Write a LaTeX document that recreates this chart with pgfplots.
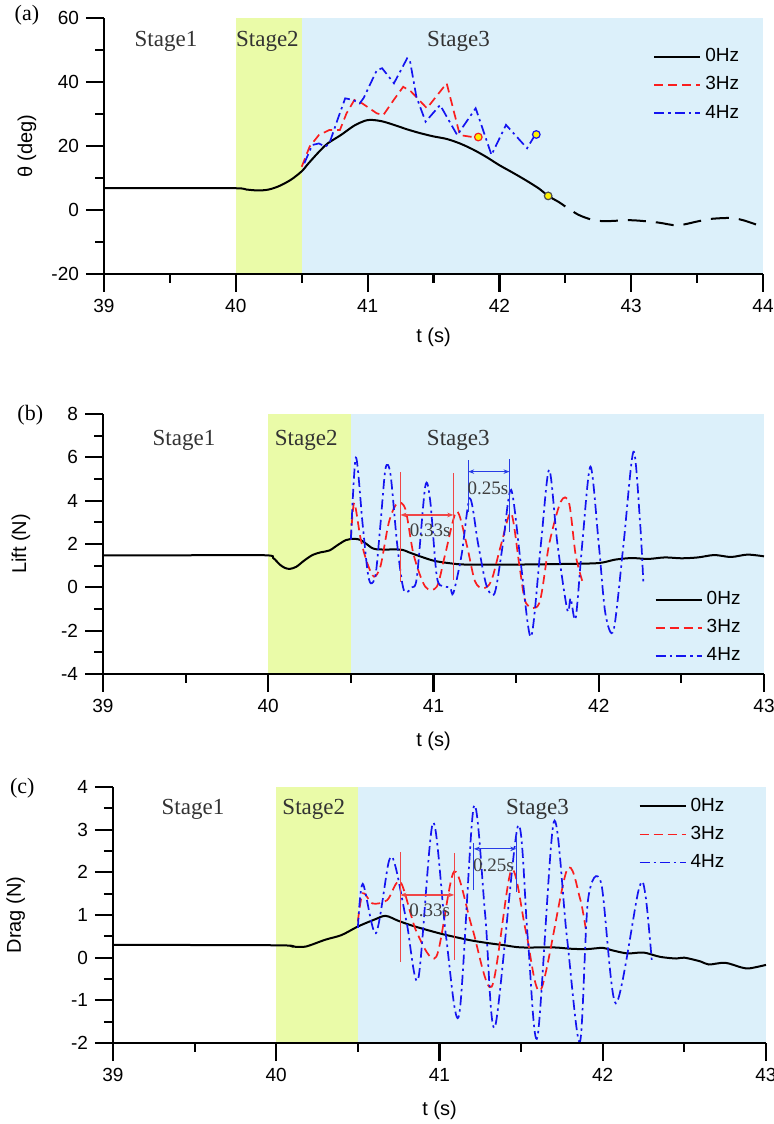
\documentclass[border=0pt]{standalone}
\usepackage{fontspec}
\setmainfont{Liberation Sans}
\newfontfamily\seriffont{Liberation Serif}
\usepackage{pgfplots}
\pgfplotsset{compat=1.18}
\usetikzlibrary{arrows.meta}

\definecolor{stagetwo}{RGB}{234,251,168}
\definecolor{stagethree}{RGB}{220,240,250}
\definecolor{hzred}{RGB}{250,30,30}
\definecolor{hzblue}{RGB}{20,20,240}
\definecolor{annred}{RGB}{240,70,70}
\definecolor{annblue}{RGB}{40,60,230}

\pgfplotsset{
  panel/.style={
    scale only axis, axis on top, clip=false,
    axis lines=left, axis line style={-, line width=1.1pt},
    tick align=outside, major tick length=9pt, minor tick length=4.5pt,
    every tick/.style={black, line width=1.1pt},
    minor x tick num=1, minor y tick num=1,
    tick label style={font=\fontsize{9.5}{11}\selectfont},
    /pgf/number format/assume math mode=true,
    label style={font=\fontsize{10}{12}\selectfont},
    legend cell align=left,
    legend image code/.code={\draw[##1] (0pt,0pt) -- (23pt,0pt);},
    legend style={draw=none, fill=none, font=\fontsize{9.5}{11}\selectfont, row sep=2pt},
  },
  zero/.style={black, line width=1pt},
  three/.style={hzred, line width=0.85pt, dash pattern=on 4.5pt off 2.5pt},
  four/.style={hzblue, line width=0.85pt, dash pattern=on 5pt off 2pt on 1.2pt off 2pt},
}
\tikzset{
  stage/.style={font=\seriffont\fontsize{11.5}{13}\selectfont, text=black!80},
  panlab/.style={font=\seriffont\fontsize{11}{13}\selectfont},
  ann/.style={font=\seriffont\fontsize{9.5}{11}\selectfont, text=black!75, inner sep=0pt},
}

\begin{document}
\begin{tikzpicture}
\path[use as bounding box] (0,0) rectangle (387pt,562pt);

% (a) pitch angle
\begin{axis}[panel, at={(52pt,425pt)}, anchor=south west, width=329.5pt, height=128pt,
  xmin=39, xmax=44, ymin=-20, ymax=60, xtick={39,...,44}, ytick={-20,0,...,60},
  xlabel={t (s)}, ylabel={θ (deg)},
  xlabel style={at={(axis description cs:0.5,-0.246)}, anchor=center},
  ylabel style={at={(axis description cs:-0.117,0.5)}, anchor=center},
  legend style={at={(0.824,0.914)}, anchor=north west}]
\fill[stagetwo] (axis cs:40,-20) rectangle (axis cs:40.5,60);
\fill[stagethree] (axis cs:40.5,-20) rectangle (axis cs:44,60);
\addplot[zero, smooth] coordinates {(39,6.8)(39.5,6.8)(40,6.8)(40.08,6.4)(40.17,6.1)(40.25,6.4)(40.33,7.5)(40.42,9.5)(40.5,12.1)(40.55,14.5)(40.6,16.8)(40.65,19)(40.7,20.9)(40.8,23.5)(40.9,26.4)(41.0,28.1)(41.1,27.8)(41.2,26.6)(41.3,25.2)(41.4,24)(41.5,23)(41.6,22.2)(41.7,20.8)(41.8,18.9)(41.9,16.6)(42.0,14)(42.1,11.7)(42.2,9.3)(42.3,6.7)(42.37,4.4)(42.45,2.5)(42.5,1.1)};
\addlegendentry{0Hz}
\addplot[three] coordinates {(40.5,13.5)(40.56,19.8)(40.63,23.4)(40.71,25)(40.79,25)(40.84,30.2)(40.9,34.4)(40.96,33.3)(41.07,30.2)(41.12,29.7)(41.2,34.5)(41.27,38.5)(41.33,37)(41.45,31.8)(41.6,39.6)(41.7,23.4)(41.78,22.9)(41.83,22.7)};
\addlegendentry{3Hz}
\addplot[four] coordinates {(40.52,14.6)(40.58,20.3)(40.63,20.8)(40.68,19.8)(40.71,20.8)(40.77,28)(40.83,34.9)(40.89,34.4)(40.94,33.3)(40.97,35)(41.07,43.7)(41.11,44.3)(41.2,39.6)(41.3,47.4)(41.32,47)(41.37,35.4)(41.44,27.6)(41.55,32.8)(41.68,23.4)(41.82,31.8)(41.94,17.2)(42.05,26.6)(42.21,19.3)(42.27,23.4)};
\addlegendentry{4Hz}
\addplot[black, line width=1pt, dash pattern=on 9pt off 5pt, dash phase=9pt, smooth, forget plot] coordinates {(42.5,1.1)(42.6,-1.5)(42.7,-3)(42.8,-3.5)(43.0,-3.2)(43.2,-3.9)(43.35,-4.8)(43.5,-3.6)(43.6,-2.8)(43.75,-2.5)(43.85,-3.2)(44,-5.3)};
\addplot[only marks, mark=*, mark size=1.9pt, mark options={fill=yellow, draw=black!70, line width=0.6pt}, forget plot] coordinates {(42.37,4.4)};
\addplot[only marks, mark=*, mark size=1.9pt, mark options={fill=yellow, draw=hzred, line width=0.6pt}, forget plot] coordinates {(41.84,22.8)};
\addplot[only marks, mark=*, mark size=1.9pt, mark options={fill=yellow, draw=hzblue, line width=0.6pt}, forget plot] coordinates {(42.28,23.6)};
\node[stage] at (axis cs:39.47,52.7) {Stage1};
\node[stage] at (axis cs:40.24,52.7) {Stage2};
\node[stage] at (axis cs:41.69,52.7) {Stage3};
\node[panlab] at (axis description cs:-0.117,1.01) {(a)};
\end{axis}

% (b) lift
\begin{axis}[panel, at={(51.5pt,225pt)}, anchor=south west, width=330.5pt, height=130pt,
  xmin=39, xmax=43, ymin=-4, ymax=8, xtick={39,...,43}, ytick={-4,-2,...,8},
  xlabel={t (s)}, ylabel={Lift (N)},
  xlabel style={at={(axis description cs:0.5,-0.26)}, anchor=center},
  ylabel style={at={(axis description cs:-0.124,0.5)}, anchor=center},
  legend style={at={(0.825,0.35)}, anchor=north west}]
\fill[stagetwo] (axis cs:40,-4) rectangle (axis cs:40.5,8);
\fill[stagethree] (axis cs:40.5,-4) rectangle (axis cs:43,8);
\addplot[zero, smooth] coordinates {(39,1.48)(39.5,1.48)(39.98,1.48)(40.03,1.35)(40.07,1.05)(40.1,0.9)(40.13,0.85)(40.17,0.95)(40.22,1.25)(40.27,1.5)(40.32,1.62)(40.37,1.7)(40.42,1.95)(40.47,2.18)(40.52,2.24)(40.56,2.18)(40.6,1.97)(40.65,1.76)(40.8,1.74)(40.85,1.62)(40.9,1.48)(41.0,1.23)(41.1,1.11)(41.2,1.05)(41.5,1.05)(41.8,1.08)(42.0,1.12)(42.1,1.28)(42.2,1.35)(42.3,1.31)(42.4,1.38)(42.5,1.34)(42.6,1.38)(42.7,1.49)(42.8,1.4)(42.9,1.51)(43.0,1.43)};
\addlegendentry{0Hz}
\addplot[three, smooth, tension=0.5] coordinates {(40.5,2.2)(40.52,3.9)(40.56,2.2)(40.6,1.1)(40.64,0.49)(40.68,1)(40.73,3)(40.78,3.88)(40.83,3.6)(40.88,1.5)(40.95,0.03)(41.02,0.03)(41.07,1.5)(41.14,3.5)(41.2,2)(41.25,0.3)(41.3,-0.04)(41.35,0.3)(41.41,2)(41.47,3.42)(41.52,1)(41.56,-0.73)(41.64,-0.73)(41.7,2)(41.77,3.95)(41.82,3.9)(41.86,1.5)(41.9,0.3)};
\addlegendentry{3Hz}
\addplot[four, smooth, tension=0.5] coordinates {(40.5,2.2)(40.53,5.99)(40.57,3)(40.6,0.8)(40.62,0.19)(40.65,0.6)(40.68,3)(40.71,5.5)(40.74,5.2)(40.78,2)(40.82,-0.12)(40.87,0.0)(40.9,0.5)(40.95,4.65)(40.98,4)(41.02,0.5)(41.06,0.05)(41.1,0.0)(41.12,-0.27)(41.17,1.5)(41.22,4.1)(41.27,2)(41.32,0.1)(41.37,-0.27)(41.42,2)(41.47,4.5)(41.53,1)(41.59,-2.28)(41.65,2)(41.7,5.42)(41.75,2)(41.81,-1.05)(41.83,-0.5)(41.86,-1.43)(41.9,2)(41.95,5.57)(42.0,2)(42.04,-1.2)(42.09,-1.97)(42.15,2)(42.21,6.26)(42.25,3)(42.27,0.19)};
\addlegendentry{4Hz}
\draw[annred, line width=0.6pt] (axis cs:40.8,0.26) -- (axis cs:40.8,5.34);
\draw[annred, line width=0.6pt] (axis cs:41.12,0.34) -- (axis cs:41.12,5.29);
\draw[annred, line width=0.6pt, {Stealth[length=3pt]}-{Stealth[length=3pt]}] (axis cs:40.8,3.34) -- (axis cs:41.12,3.34);
\draw[annblue, line width=0.6pt] (axis cs:41.21,3.49) -- (axis cs:41.21,5.88);
\draw[annblue, line width=0.6pt] (axis cs:41.46,2.57) -- (axis cs:41.46,5.91);
\draw[annblue, line width=0.6pt, {Stealth[length=3pt]}-{Stealth[length=3pt]}] (axis cs:41.21,5.34) -- (axis cs:41.46,5.34);
\node[ann] at (axis cs:40.98,2.65) {0.33s};
\node[ann] at (axis cs:41.33,4.57) {0.25s};
\node[stage] at (axis cs:39.49,6.8) {Stage1};
\node[stage] at (axis cs:40.23,6.8) {Stage2};
\node[stage] at (axis cs:41.15,6.8) {Stage3};
\node[panlab] at (axis description cs:-0.11,0.996) {(b)};
\end{axis}

% (c) drag
\begin{axis}[panel, at={(56.5pt,40.5pt)}, anchor=south west, width=326.5pt, height=128pt,
  xmin=39, xmax=43, ymin=-2, ymax=4, xtick={39,...,43}, ytick={-2,-1,...,4},
  xlabel={t (s)}, ylabel={Drag (N)},
  xlabel style={at={(axis description cs:0.5,-0.262)}, anchor=center},
  ylabel style={at={(axis description cs:-0.149,0.5)}, anchor=center},
  legend style={at={(0.795,0.99)}, anchor=north west}]
\fill[stagetwo] (axis cs:40,-2) rectangle (axis cs:40.5,4);
\fill[stagethree] (axis cs:40.5,-2) rectangle (axis cs:43,4);
\addplot[zero, smooth] coordinates {(39,0.3)(40,0.29)(40.1,0.26)(40.18,0.26)(40.3,0.42)(40.4,0.53)(40.5,0.73)(40.6,0.89)(40.67,0.98)(40.75,0.86)(40.85,0.73)(41.0,0.57)(41.1,0.48)(41.2,0.4)(41.3,0.34)(41.4,0.29)(41.5,0.24)(41.7,0.24)(41.8,0.21)(41.9,0.2)(42.0,0.23)(42.05,0.18)(42.15,0.1)(42.25,0.12)(42.35,0.02)(42.45,-0.02)(42.5,0)(42.6,-0.09)(42.65,-0.16)(42.75,-0.12)(42.85,-0.23)(42.9,-0.25)(43.0,-0.17)};
\addlegendentry{0Hz}
\addplot[three, smooth, tension=0.5] coordinates {(40.5,0.85)(40.53,1.51)(40.59,1.27)(40.68,1.35)(40.76,1.78)(40.86,0.6)(40.98,0.02)(41.09,2.02)(41.2,0.7)(41.32,-0.68)(41.44,2.05)(41.53,0.6)(41.62,-0.76)(41.78,2.05)(41.86,1.4)(41.9,0.57)};
\addlegendentry{3Hz}
\addplot[four, smooth, tension=0.5] coordinates {(40.5,0.7)(40.53,1.73)(40.61,0.57)(40.69,2.26)(40.73,2.14)(40.8,0.8)(40.87,-0.49)(40.96,3.16)(41.04,0.5)(41.12,-1.35)(41.21,3.54)(41.28,1)(41.34,-1.62)(41.48,3.08)(41.54,0.5)(41.6,-1.86)(41.7,3.18)(41.78,0.5)(41.86,-1.98)(41.91,1.36)(41.99,1.75)(42.08,-1.07)(42.22,1.59)(42.26,1.51)(42.3,-0.05)};
\addlegendentry{4Hz}
\draw[annred, line width=0.6pt] (axis cs:40.76,-0.09) -- (axis cs:40.76,2.48);
\draw[annred, line width=0.6pt] (axis cs:41.09,-0.05) -- (axis cs:41.09,2.45);
\draw[annred, line width=0.6pt, {Stealth[length=3pt]}-{Stealth[length=3pt]}] (axis cs:40.76,1.47) -- (axis cs:41.09,1.47);
\draw[annblue, line width=0.6pt] (axis cs:41.21,1.59) -- (axis cs:41.21,2.68);
\draw[annblue, line width=0.6pt] (axis cs:41.47,1.55) -- (axis cs:41.47,2.88);
\draw[annblue, line width=0.6pt, {Stealth[length=3pt]}-{Stealth[length=3pt]}] (axis cs:41.21,2.55) -- (axis cs:41.47,2.55);
\node[ann] at (axis cs:40.94,1.12) {0.33s};
\node[ann] at (axis cs:41.33,2.17) {0.25s};
\node[stage] at (axis cs:39.49,3.47) {Stage1};
\node[stage] at (axis cs:40.23,3.47) {Stage2};
\node[stage] at (axis cs:41.6,3.47) {Stage3};
\node[panlab] at (axis description cs:-0.139,0.996) {(c)};
\end{axis}
\end{tikzpicture}
\end{document}
